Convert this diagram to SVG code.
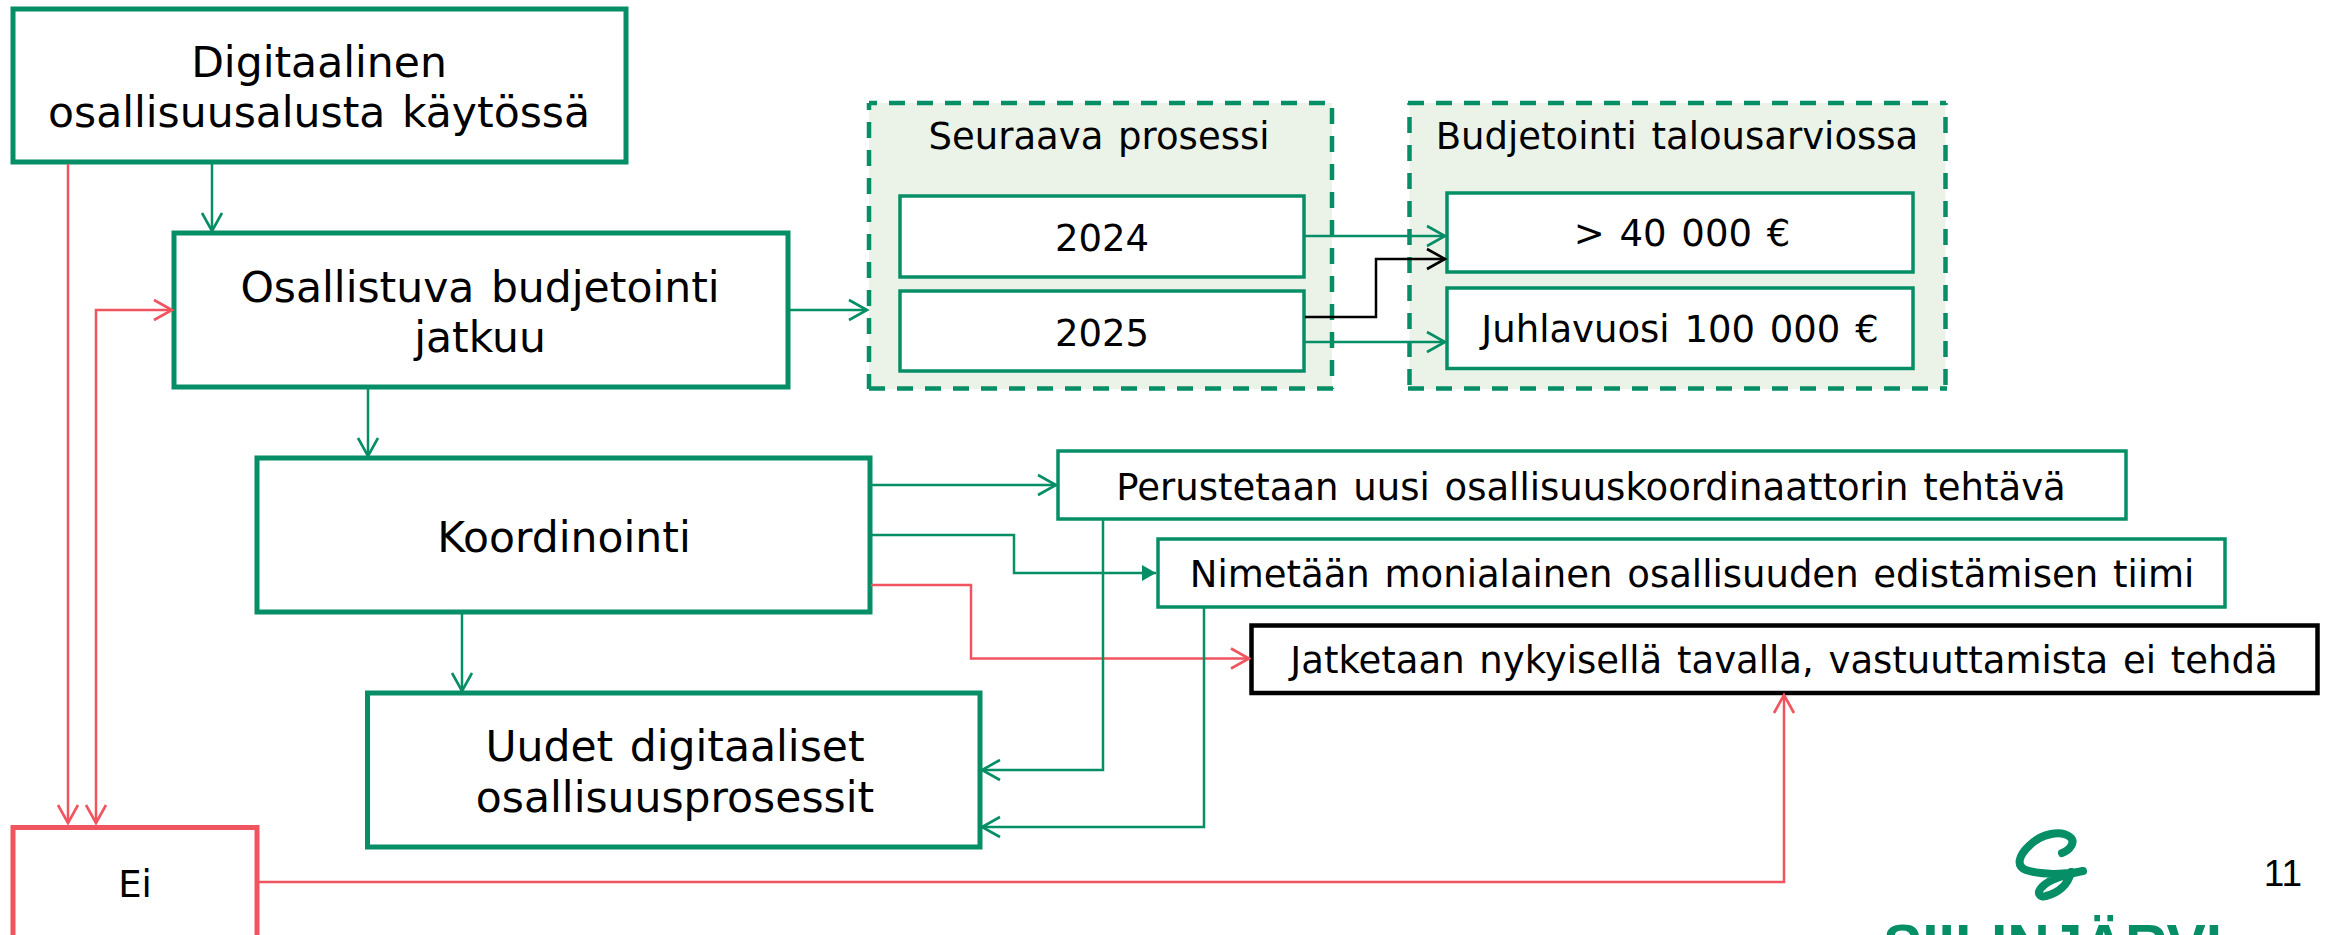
<svg xmlns="http://www.w3.org/2000/svg" width="2333" height="935" viewBox="0 0 2333 935">
<style>
text{font-family:"DejaVu Sans",Verdana,sans-serif;fill:#000;text-anchor:middle;word-spacing:3px}
.l{font-size:42.5px}.m{font-size:37px}
.b{fill:#fff;stroke:#068e66;stroke-width:5}
.s{fill:#fff;stroke:#068e66;stroke-width:3.5}
.gf{fill:#ebf3e8}
.g{fill:none;stroke:#068e66;stroke-width:4.5;stroke-dasharray:16 12}
.c{fill:none;stroke-width:2.5}
.gr{stroke:#068e66}.r{stroke:#f0555f}.k{stroke:#000}
</style>
<defs>
<marker id="ag" markerUnits="userSpaceOnUse" markerWidth="24" markerHeight="26" refX="20" refY="12" orient="auto"><path d="M2 2L20 12L2 22" fill="none" stroke="#068e66" stroke-width="2.6"/></marker>
<marker id="ar" markerUnits="userSpaceOnUse" markerWidth="24" markerHeight="26" refX="20" refY="12" orient="auto-start-reverse"><path d="M2 2L20 12L2 22" fill="none" stroke="#f0555f" stroke-width="2.6"/></marker>
<marker id="ak" markerUnits="userSpaceOnUse" markerWidth="24" markerHeight="26" refX="20" refY="12" orient="auto"><path d="M2 2L20 12L2 22" fill="none" stroke="#000" stroke-width="2.6"/></marker>
<marker id="af" markerUnits="userSpaceOnUse" markerWidth="18" markerHeight="18" refX="14" refY="8" orient="auto"><path d="M0 0L14 8L0 16Z" fill="#068e66"/></marker>
</defs>
<g id="group-seuraava"><rect class="gf" x="869" y="103" width="463" height="286"/>
<path class="g" stroke-dashoffset="8" d="M869 103H1332"/><path class="g" stroke-dashoffset="9" d="M869 103V389"/><path class="g" stroke-dashoffset="23" d="M1332 103V389"/><path class="g" d="M1333 388.500H869"/>
<text class="m" x="1099" y="149">Seuraava prosessi</text></g>
<g id="group-budjetointi"><rect class="gf" x="1409.500" y="103" width="536" height="286"/>
<path class="g" d="M1408 103H1946"/><path class="g" stroke-dashoffset="14" d="M1409.500 103V389"/><path class="g" stroke-dashoffset="14" d="M1945.500 103V389"/><path class="g" d="M1408 388.500H1947"/>
<text class="m" x="1677" y="149">Budjetointi talousarviossa</text></g>
<g id="node-digitaalinen"><rect class="b" x="13" y="9" width="613" height="153"/><text class="l" x="319" y="77">Digitaalinen</text><text class="l" x="319" y="127">osallisuusalusta käytössä</text></g>
<g id="node-osallistuva"><rect class="b" x="174" y="233" width="614" height="154"/><text class="l" x="480" y="302">Osallistuva budjetointi</text><text class="l" x="480" y="352">jatkuu</text></g>
<g id="node-koordinointi"><rect class="b" x="257" y="458" width="613" height="154"/><text class="l" x="564" y="552">Koordinointi</text></g>
<g id="node-uudet"><rect class="b" x="367.500" y="693" width="612.500" height="154"/><text class="l" x="675" y="761">Uudet digitaaliset</text><text class="l" x="675" y="812">osallisuusprosessit</text></g>
<g id="node-ei"><rect x="13" y="827.500" width="244" height="110" fill="#fff" stroke="#f0555f" stroke-width="5"/><text class="m" x="135" y="897">Ei</text></g>
<g id="node-2024"><rect class="s" x="900" y="196" width="404" height="81"/><text class="m" x="1102" y="251">2024</text></g>
<g id="node-2025"><rect class="s" x="900" y="291" width="404" height="80"/><text class="m" x="1102" y="346">2025</text></g>
<g id="node-40000"><rect class="s" x="1447" y="193" width="466" height="79"/><text class="m" x="1682" y="246">&gt; 40 000 €</text></g>
<g id="node-juhlavuosi"><rect class="s" x="1447" y="288" width="466" height="80.500"/><text class="m" x="1680" y="342">Juhlavuosi 100 000 €</text></g>
<g id="node-perustetaan"><rect class="s" x="1058" y="451" width="1068" height="68"/><text class="m" x="1591" y="500">Perustetaan uusi osallisuuskoordinaattorin tehtävä</text></g>
<g id="node-nimetaan"><rect class="s" x="1158" y="539" width="1067" height="68"/><text class="m" x="1692" y="587">Nimetään monialainen osallisuuden edistämisen tiimi</text></g>
<g id="node-jatketaan"><rect x="1251.500" y="625.500" width="1066" height="67.500" fill="#fff" stroke="#000" stroke-width="4.500"/><text class="m" x="1784" y="673">Jatketaan nykyisellä tavalla, vastuuttamista ei tehdä</text></g>
<g id="connectors">
<path class="c gr" marker-end="url(#ag)" d="M212 164V231"/>
<path class="c gr" marker-end="url(#ag)" d="M368 389V456"/>
<path class="c gr" marker-end="url(#ag)" d="M462 614V691"/>
<path class="c gr" marker-end="url(#ag)" d="M790 310H867"/>
<path class="c gr" marker-end="url(#ag)" d="M1305 236H1445"/>
<path class="c k" marker-end="url(#ak)" d="M1305 317H1376V259H1445"/>
<path class="c gr" marker-end="url(#ag)" d="M1305 342H1445"/>
<path class="c gr" marker-end="url(#ag)" d="M871 485H1056"/>
<path class="c gr" marker-end="url(#af)" d="M871 535H1014V573H1156"/>
<path class="c r" marker-end="url(#ar)" d="M871 585H971V658.500H1249"/>
<path class="c gr" marker-end="url(#ag)" d="M1103 520V770H982"/>
<path class="c gr" marker-end="url(#ag)" d="M1204 608V827H982"/>
<path class="c r" marker-end="url(#ar)" d="M68 164V823"/>
<path class="c r" marker-start="url(#ar)" marker-end="url(#ar)" d="M96 823V310H172"/>
<path class="c r" marker-end="url(#ar)" d="M259 882H1784V695"/>
</g>
<g id="logo">
<path d="M2062 853C2070 850 2076 842 2070 837C2060 829 2040 835 2030 845C2018 856 2016 866 2026 870C2040 875 2065 875 2083 871C2070 874 2050 878 2042 887C2036 893 2040 898 2046 896C2058 893 2068 885 2071 872" fill="none" stroke="#068e66" stroke-width="8" stroke-linecap="round" stroke-linejoin="round"/>
<text x="2052.500" y="966" style="font-family:'Liberation Sans',Arial,sans-serif;font-weight:700;font-size:60px;fill:#068e66;word-spacing:0" textLength="339" lengthAdjust="spacingAndGlyphs">SIILINJÄRVI</text>
</g>
<text x="2283" y="886" style="font-family:'Liberation Sans',Arial,sans-serif;font-size:37px">11</text>
</svg>
